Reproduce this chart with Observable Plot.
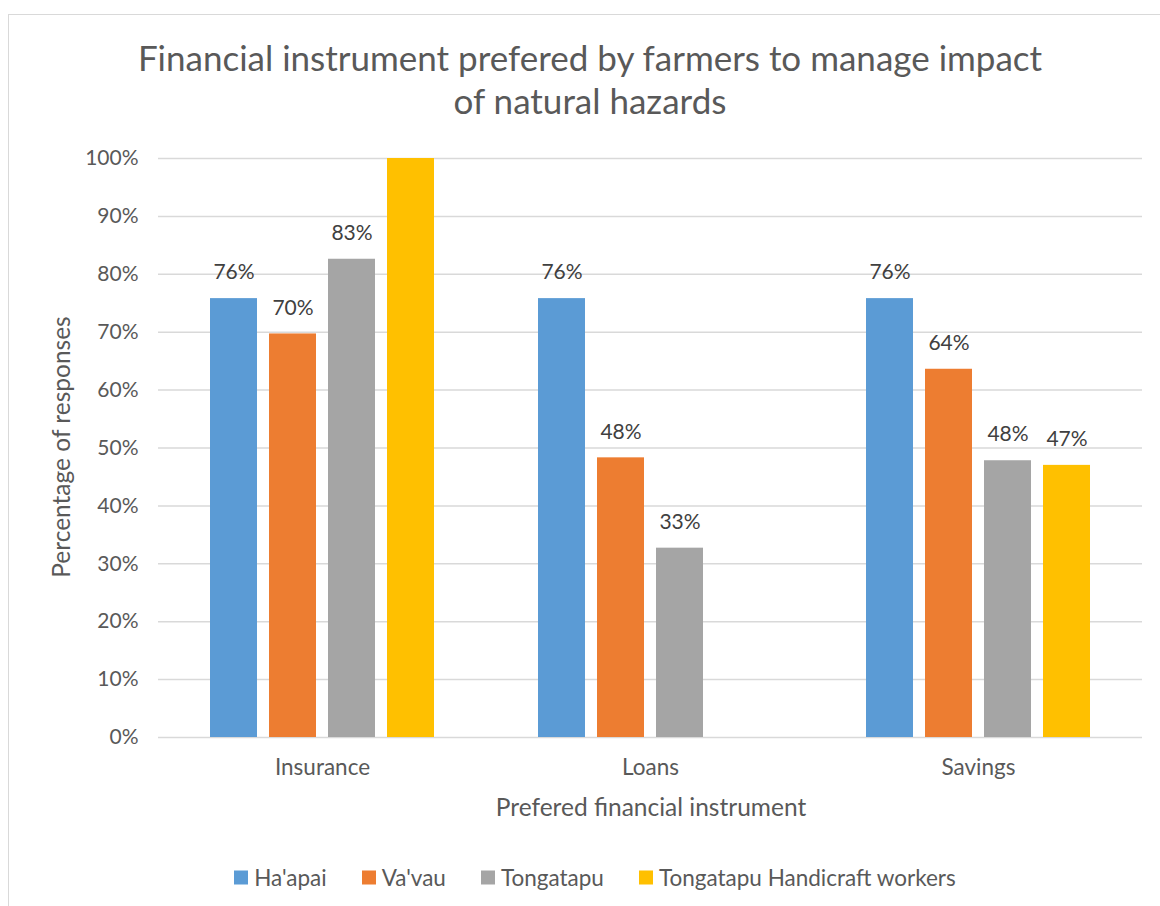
<!DOCTYPE html>
<html>
<head>
<meta charset="utf-8">
<script src="https://cdn.jsdelivr.net/npm/d3@7"></script>
<script src="https://cdn.jsdelivr.net/npm/@observablehq/plot@0.6"></script>
<style>
  html, body { margin: 0; padding: 0; background: #fff; }
  #wrap { position: relative; width: 1160px; height: 906px; overflow: hidden; font-family: Lato, "Open Sans", sans-serif; color: #595959; }
  #frame { position: absolute; left: 8px; top: 14px; width: 1200px; height: 1000px; border: 1.5px solid #d9d9d9; box-sizing: border-box; }
  #title { position: absolute; left: 0; width: 1180px; top: 36px; text-align: center; font-size: 35px; line-height: 43px; color: #595959; }
  #chart { position: absolute; left: 0; top: 130px; }
  #ylab { position: absolute; left: 60px; top: 447px; transform: translate(-50%, -50%) rotate(-90deg); font-size: 24.5px; white-space: nowrap; }
  #xlab { position: absolute; left: 651px; top: 806px; transform: translate(-50%, -50%); font-size: 24.5px; white-space: nowrap; }
  #legend { position: absolute; left: 0; width: 1190px; top: 877px; transform: translateY(-50%); display: flex; justify-content: center; gap: 35px; font-size: 22.5px; }
  .item { display: flex; align-items: center; gap: 6px; }
  .sw { width: 14px; height: 14px; display: inline-block; }
</style>
</head>
<body>
<div id="wrap">
  <div id="frame"></div>
  <div id="title">Financial instrument prefered by farmers to manage impact<br>of natural hazards</div>
  <div id="chart"></div>
  <div id="ylab">Percentage of responses</div>
  <div id="xlab">Prefered financial instrument</div>
  <div id="legend"></div>
</div>
<script>
const categories = ["Insurance", "Loans", "Savings"];
const seriesNames = ["Ha'apai", "Va'vau", "Tongatapu", "Tongatapu Handicraft workers"];
const colors = ["#5B9BD5", "#ED7D31", "#A5A5A5", "#FFC000"];
const haapai = [75.8, 75.8, 75.8];
const vavau = [69.7, 48.3, 63.6];
const tongatapu = [82.6, 32.7, 47.8];
const handicraft = [100, null, 47.0];
const yTicks = [0, 10, 20, 30, 40, 50, 60, 70, 80, 90, 100];

const seriesValues = [haapai, vavau, tongatapu, handicraft];
const data = [];
categories.forEach((c, i) => {
  seriesNames.forEach((s, j) => {
    const v = seriesValues[j][i];
    if (v != null) data.push({cat: c, series: s, value: v});
  });
});

const chart = Plot.plot({
  width: 1160,
  height: 700,
  marginTop: 28,
  marginBottom: 93,
  marginLeft: 157,
  marginRight: 17,
  style: {fontFamily: "Lato, 'Open Sans', sans-serif", fontSize: "21px", color: "#595959", background: "transparent"},
  fx: {domain: categories, padding: 0, label: null},
  x: {domain: seriesNames, paddingInner: 0.207, paddingOuter: 0.875, axis: null},
  y: {domain: [0, 100], label: null},
  color: {domain: seriesNames, range: colors},
  marks: [
    Plot.gridY(yTicks, {stroke: "#d9d9d9", strokeOpacity: 1, strokeWidth: 1.5, facet: "exclude"}),
    Plot.axisY(yTicks, {anchor: "left", tickSize: 0, tickPadding: 20, tickFormat: d => d + "%", label: null, fill: "#595959", fontSize: 21}),
    Plot.axisFx({anchor: "bottom", tickSize: 0, tickPadding: 22, label: null, fill: "#595959", fontSize: 22.5}),
    Plot.barY(data, {fx: "cat", x: "series", y: "value", fill: "series"}),
    Plot.text(data.filter(d => d.value < 100), {fx: "cat", x: "series", y: "value", text: d => Math.round(d.value) + "%", dy: -26, fill: "#404040", fontSize: 21})
  ]
});
document.getElementById("chart").appendChild(chart);

const legend = document.getElementById("legend");
seriesNames.forEach((s, i) => {
  const item = document.createElement("div");
  item.className = "item";
  const sw = document.createElement("span");
  sw.className = "sw";
  sw.style.background = colors[i];
  const t = document.createElement("span");
  t.textContent = s;
  item.appendChild(sw);
  item.appendChild(t);
  legend.appendChild(item);
});
</script>
</body>
</html>
